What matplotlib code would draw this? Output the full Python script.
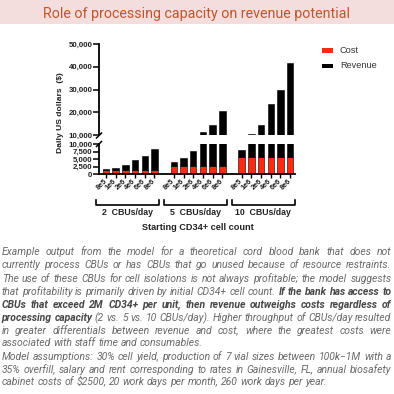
import math
import matplotlib
matplotlib.use("Agg")
import matplotlib.pyplot as plt
from matplotlib.patches import Rectangle
from matplotlib.lines import Line2D
from matplotlib.font_manager import FontProperties
import matplotlib.transforms as mtransforms

# ---------------- data ----------------
title = "Role of processing capacity on revenue potential"
groups = ["2  CBUs/day", "5  CBUs/day", "10  CBUs/day"]
cell_counts = ["8e5", "1e6", "2e6", "4e6", "6e6", "8e6"]
cost_2 = [1300, 1300, 1300, 1300, 1300, 1300]
revenue_2 = [350, 800, 1700, 3450, 4800, 7000]
cost_5 = [2900, 2900, 2900, 2900, 2900, 2900]
revenue_5 = [1100, 2400, 4750, 8600, 11600, 17550]
cost_10 = [5800, 5800, 5800, 5800, 5800, 5800]
revenue_10 = [2300, 4500, 8800, 18000, 23900, 35700]
upper_ticks = [10000, 20000, 30000, 40000, 50000]
lower_ticks = [0, 2500, 5000, 7500, 10000]
y_label = "Daily US dollars  ($)"
x_label = "Starting CD34+ cell count"
legend_labels = ["Cost", "Revenue"]

para1 = [
    "Example output from the model for a theoretical cord blood bank that does not",
    "currently process CBUs or has CBUs that go unused because of resource restraints.",
    "The use of these CBUs for cell isolations is not always profitable; the model suggests",
    "that profitability is primarily driven by initial CD34+ cell count. **If the bank has access to**",
    "**CBUs that exceed 2M CD34+ per unit, then revenue outweighs costs regardless of**",
    "**processing capacity** (2 vs. 5 vs. 10 CBUs/day). Higher throughput of CBUs/day resulted",
    "in greater differentials between revenue and cost, where the greatest costs were",
    "associated with staff time and consumables.",
]
para2 = [
    "Model assumptions: 30% cell yield, production of 7 vial sizes between 100k\u22121M with a",
    "35% overfill, salary and rent corresponding to rates in Gainesville, FL, annual biosafety",
    "cabinet costs of $2500,  20 work days per month, 260 work days per year.",
]

# ---------------- styling ----------------
W = H = 394
DPI = 100
RED = "#ff2a10"
TITLE_COL = "#c0552c"
BAND_COL = "#f3dddd"
CAP_COL = "#6a6a6a"
CAP_BOLD_COL = "#474747"
ARIAL = ["Liberation Sans", "DejaVu Sans"]
ROBOTO = ["Roboto", "DejaVu Sans"]

fig = plt.figure(figsize=(W / DPI, H / DPI), dpi=DPI)
fig.patch.set_facecolor("white")
renderer = fig.canvas.get_renderer()


def fx(px):
    return px / W


def fy(py):
    return 1 - py / H


def measure(s, **kw):
    t = fig.text(0, 0, s, parse_math=False, **kw)
    w = t.get_window_extent(renderer).width
    t.remove()
    return w


# ---------------- title band ----------------
fig.patches.append(Rectangle((0, fy(24.3)), 1, 24.3 / H, transform=fig.transFigure,
                             facecolor=BAND_COL, edgecolor="none", zorder=0))
tw = measure(title, family=ROBOTO, size=10)
tsize = 10 * 307 / tw
fig.text(fx(196.5), fy(12.3), title, family=ROBOTO, size=tsize, color=TITLE_COL,
         ha="center", va="center_baseline")

# ---------------- axes ----------------
x_left, x_right = 99, 295
xlim = (-0.72, 19.5)
ax_top = fig.add_axes([fx(x_left), fy(135), (x_right - x_left) / W, 91 / H])
ax_bot = fig.add_axes([fx(x_left), fy(174.3), (x_right - x_left) / W, 30.3 / H])

costs = [cost_2, cost_5, cost_10]
revs = [revenue_2, revenue_5, revenue_10]
positions = []
for g in range(len(groups)):
    pos = [g * 7 + i for i in range(len(cell_counts))]
    positions.append(pos)
    for ax in (ax_top, ax_bot):
        ax.bar(pos, costs[g], width=0.67, color=RED, edgecolor="black", linewidth=0.4, zorder=2)
        ax.bar(pos, revs[g], bottom=costs[g], width=0.67, color="black",
               edgecolor="black", linewidth=0.4, zorder=2)

all_pos = [p for ps in positions for p in ps]
for ax in (ax_top, ax_bot):
    ax.set_xlim(*xlim)
    ax.set_facecolor("none")
    for s in ("top", "right"):
        ax.spines[s].set_visible(False)
    ax.spines["left"].set_linewidth(1.3)
    ax.tick_params(axis="y", length=4, width=1.1, pad=0.8, labelsize=5.7)

ax_top.set_ylim(10000, 50000)
ax_top.set_yticks(upper_ticks)
ax_top.set_yticklabels([f"{v:,}" for v in upper_ticks])
ax_top.spines["bottom"].set_visible(False)
ax_top.set_xticks([])

ax_bot.set_ylim(0, 10000)
ax_bot.set_yticks(lower_ticks)
ax_bot.set_yticklabels([f"{v:,}" for v in lower_ticks])
ax_bot.spines["bottom"].set_linewidth(1.3)
ax_bot.set_xticks(all_pos)
ax_bot.set_xticklabels(cell_counts * len(groups), rotation=45, ha="right", va="center",
                       rotation_mode="anchor")
ax_bot.tick_params(axis="x", length=3, width=1.0, pad=1.5, labelsize=5.3)

for ax in (ax_top, ax_bot):
    for lab in ax.get_yticklabels() + ax.get_xticklabels():
        lab.set_fontfamily(ARIAL)
        lab.set_fontweight("bold")
        lab.set_color("#222222")

# break marks on the y axis
for (x0, y0, x1, y1) in [(96.5, 138.0, 101.5, 133.0), (96.5, 146.5, 101.5, 141.5)]:
    fig.add_artist(Line2D([fx(x0), fx(x1)], [fy(y0), fy(y1)], transform=fig.transFigure,
                          color="black", linewidth=1.1))

# y label
fig.text(fx(60), fy(112.5), y_label, rotation=90, ha="center", va="center",
         family=ARIAL, weight="bold", size=6.1, color="#222222", parse_math=False)

# group brackets and labels
trans = mtransforms.blended_transform_factory(ax_bot.transData, fig.transFigure)
for g, pos in enumerate(positions):
    xa, xb = pos[0] - 1.05, pos[-1] + 0.45
    fig.add_artist(Line2D([xa, xa, xb, xb], [fy(200), fy(205), fy(205), fy(200)],
                          transform=trans, color="black", linewidth=1.2))
    fig.text((xa + xb) / 2, fy(212.3), groups[g], transform=trans, ha="center",
             va="center", family=ARIAL, weight="bold", size=6.3, color="#222222")

fig.text(fx(198), fy(228), x_label, ha="center", va="center", family=ARIAL,
         weight="bold", size=6.6, color="#222222")

# legend
leg_cols = [RED, "black"]
leg_y = [50.8, 66.0]
for lab, col, yy in zip(legend_labels, leg_cols, leg_y):
    fig.patches.append(Rectangle((fx(321.7), fy(yy + 2.4)), 11.6 / W, 4.8 / H,
                                 transform=fig.transFigure, facecolor=col, edgecolor="none"))
    fig.text(fx(340), fy(yy), lab, ha="left", va="center", family=ARIAL, size=6.6,
             color="#333333")


# ---------------- caption (justified) ----------------
def parse(line):
    toks = []
    for i, part in enumerate(line.split("**")):
        for w in part.split():
            toks.append((w, i % 2 == 1))
    return toks


def tok_kw(bold, size):
    return dict(family=ROBOTO, style="italic", weight="bold" if bold else "normal", size=size)


try:
    from matplotlib.backends.backend_agg import get_hinting_flag
except Exception:  # pragma: no cover
    get_hinting_flag = None


def baseline_for(word, kw, target_row):
    """y (pixels from top) that puts the rasterised baseline exactly on target_row."""
    try:
        prop = FontProperties(family=kw["family"], style=kw["style"],
                              weight=kw["weight"], size=kw["size"])
        font = renderer._prepare_font(prop)
        font.set_text(word, 0, flags=get_hinting_flag())
        d = font.get_descent() / 64.0
        hgt = font.get_width_height()[1] / 64.0
        asc = hgt - d
        k = target_row + math.floor(asc + d) - math.floor(asc)
        return k - d
    except Exception:
        return target_row - 0.5


left_px, right_px = 1.8, 391.5
ref = 10.0
nat = []
for line in para1[:-1] + para2[:-1]:
    toks = parse(line)
    ws = sum(measure(w, **tok_kw(b, ref)) for w, b in toks)
    sp = measure("a a", **tok_kw(False, ref)) - measure("aa", **tok_kw(False, ref))
    nat.append(ws + sp * (len(toks) - 1))
csize = ref * (right_px - left_px - 1.0) / max(nat)

space_w = measure("a a", **tok_kw(False, csize)) - measure("aa", **tok_kw(False, csize))
em_px = csize * DPI / 72.0

centers1 = [252.0, 265.0, 278.2, 291.4, 304.6, 317.4, 330.2, 342.8]
centers2 = [356.7, 369.3, 381.8]


def draw_para(lines, centers):
    for k, (line, cy) in enumerate(zip(lines, centers)):
        toks = parse(line)
        widths = [measure(w, **tok_kw(b, csize)) for w, b in toks]
        last = k == len(lines) - 1
        if last or len(toks) < 2:
            gap = space_w
        else:
            gap = (right_px - left_px - sum(widths)) / (len(toks) - 1)
        x = left_px
        row = int(round(cy + 0.33 * em_px))
        for (w, b), wd in zip(toks, widths):
            kw = tok_kw(b, csize)
            base = baseline_for(w, kw, row)
            fig.text(fx(x), fy(base), w, ha="left", va="baseline", parse_math=False,
                     color=CAP_BOLD_COL if b else CAP_COL, **kw)
            x += wd + gap


draw_para(para1, centers1)
draw_para(para2, centers2)

fig.savefig("out.png", dpi=DPI, facecolor="white")
